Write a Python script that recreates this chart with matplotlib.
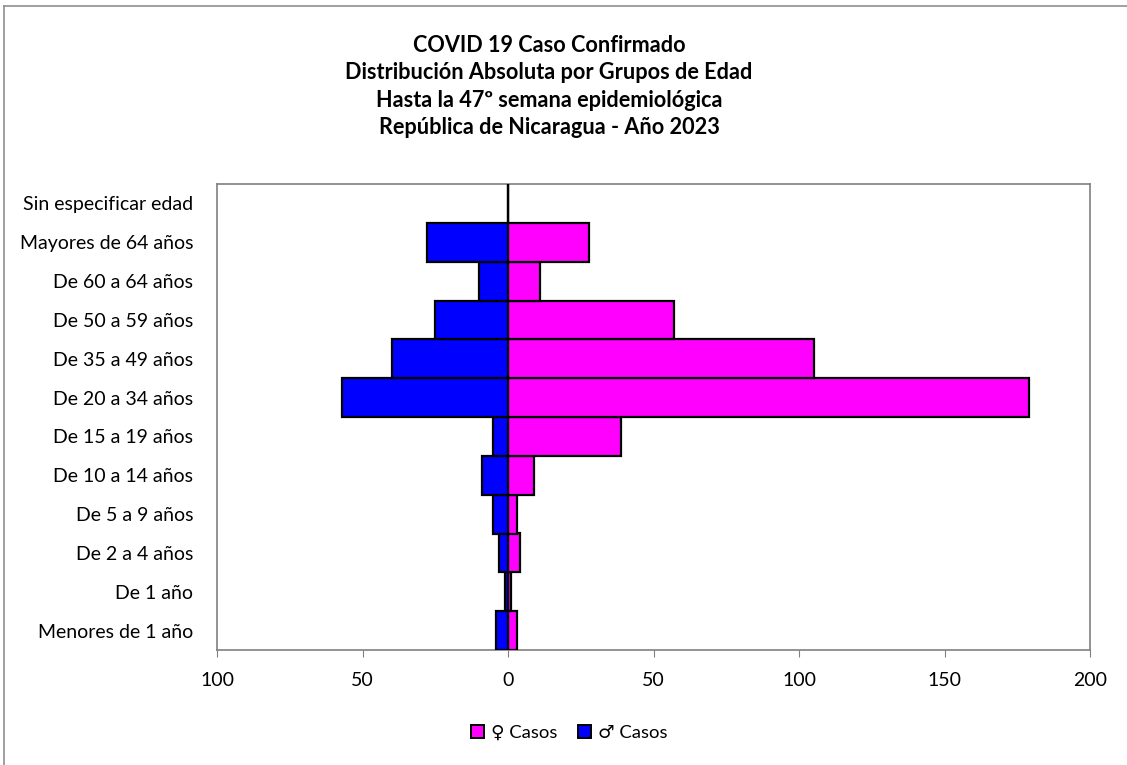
import numpy as np
import matplotlib.pyplot as plt
from matplotlib.ticker import FuncFormatter
from matplotlib.patches import Patch

plt.rcParams['font.family'] = ['Lato', 'DejaVu Sans']

grupos = ["Menores de 1 año", "De 1 año", "De 2 a 4 años", "De 5 a 9 años",
          "De 10 a 14 años", "De 15 a 19 años", "De 20 a 34 años",
          "De 35 a 49 años", "De 50 a 59 años", "De 60 a 64 años",
          "Mayores de 64 años", "Sin especificar edad"]
mujeres = [3, 1, 4, 3, 9, 39, 179, 105, 57, 11, 28, 0]
hombres = [4, 1, 3, 5, 9, 5, 57, 40, 25, 10, 28, 0]
xticks = [-100, -50, 0, 50, 100, 150, 200]

titulo = ("COVID 19 Caso Confirmado\n"
          "Distribución Absoluta por Grupos de Edad\n"
          "Hasta la 47º semana epidemiológica\n"
          "República de Nicaragua - Año 2023")

fig = plt.figure(figsize=(11.27, 7.65), dpi=100)
ax = fig.add_axes([217 / 1127, 1 - 650 / 765, 873 / 1127, 466 / 765])

y = np.arange(len(grupos))
ax.barh(y, mujeres, height=1.0, color='#FF00FF', edgecolor='black', linewidth=1.6, zorder=3)
ax.barh(y, -np.array(hombres), height=1.0, color='#0000FF', edgecolor='black', linewidth=1.6, zorder=3)
ax.axvline(0, color='#808080', linewidth=1, zorder=2)

ax.set_xlim(-100, 200)
ax.set_ylim(-0.5, len(grupos) - 0.5)
ax.set_xticks(xticks)
ax.xaxis.set_major_formatter(FuncFormatter(lambda v, p: f"{abs(int(v))}"))
ax.set_yticks(y)
ax.set_yticklabels(grupos)
ax.tick_params(axis='y', length=0, pad=17, labelsize=14)
ax.tick_params(axis='x', length=5, color='#808080', pad=11, labelsize=14)
for s in ax.spines.values():
    s.set_color('#808080')
    s.set_linewidth(1.2)

fig.text(549 / 1127, 1 - 35 / 765, titulo, ha='center', va='top', fontsize=15.6,
         fontweight='bold', linespacing=1.38)

handles = [Patch(facecolor='#FF00FF', edgecolor='black', linewidth=1.4),
           Patch(facecolor='#0000FF', edgecolor='black', linewidth=1.4)]
fig.legend(handles, ["♀ Casos", "♂ Casos"], loc='center', bbox_to_anchor=(569 / 1127, 1 - 733 / 765),
           ncol=2, frameon=False, fontsize=13.3, handlelength=0.7, handleheight=0.7,
           handletextpad=0.4, columnspacing=1.1)

# marco exterior
fig.add_artist(plt.Line2D([4 / 1127, 4 / 1127], [0, 1 - 6 / 765], color='#909090', linewidth=1.2))
fig.add_artist(plt.Line2D([4 / 1127, 1], [1 - 6 / 765, 1 - 6 / 765], color='#909090', linewidth=1.2))

fig.savefig('out.png', dpi=100)
